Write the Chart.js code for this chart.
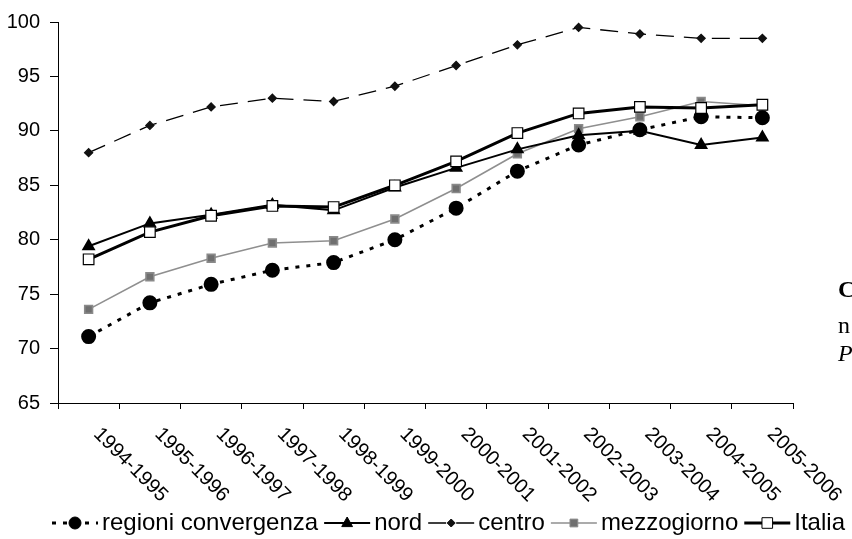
<!DOCTYPE html>
<html>
<head>
<meta charset="utf-8">
<script src="https://cdn.jsdelivr.net/npm/chart.js@4/dist/chart.umd.min.js"></script>
<style>
  html, body { margin: 0; padding: 0; background: #fff; overflow: hidden; }
  #wrap { position: relative; width: 852px; height: 539px; }
  .side { position: absolute; left: 838px; font-family: "Liberation Serif", serif; color: #000; font-size: 24px; }
</style>
</head>
<body>
<div id="wrap">
  <canvas id="chart" width="852" height="539"></canvas>
  <span class="side" style="top:276px;font-weight:bold">C</span>
  <span class="side" style="top:312px">n</span>
  <span class="side" style="top:340px;font-style:italic">P</span>
</div>
<script>
const categories = ["1994-1995", "1995-1996", "1996-1997", "1997-1998", "1998-1999", "1999-2000",
  "2000-2001", "2001-2002", "2002-2003", "2003-2004", "2004-2005", "2005-2006"];
const regioni = [71.1, 74.2, 75.9, 77.2, 77.9, 80.0, 82.9, 86.3, 88.7, 90.1, 91.3, 91.2];
const nord = [79.4, 81.5, 82.3, 83.2, 82.7, 84.8, 86.6, 88.3, 89.6, 90.0, 88.7, 89.4];
const centro = [88.0, 90.5, 92.2, 93.0, 92.7, 94.1, 96.0, 97.9, 99.5, 98.9, 98.5, 98.5];
const mezzogiorno = [73.6, 76.6, 78.3, 79.7, 79.9, 81.9, 84.7, 87.9, 90.2, 91.3, 92.7, 92.3];
const italia = [78.2, 80.7, 82.2, 83.1, 83.0, 85.0, 87.2, 89.8, 91.6, 92.2, 92.1, 92.4];
const yMin = 65, yMax = 100, yStep = 5;

const FONT = '"Liberation Sans", Arial, sans-serif';

// draw one marker for the legend
function marker(ctx, style, x, y, r, fill, stroke) {
  ctx.save();
  ctx.setLineDash([]);
  ctx.fillStyle = fill;
  ctx.strokeStyle = stroke;
  ctx.lineWidth = 1;
  ctx.beginPath();
  if (style === "circle") {
    ctx.arc(x, y, r, 0, Math.PI * 2);
  } else if (style === "triangle") {
    ctx.moveTo(x, y - r);
    ctx.lineTo(x + r * 0.9, y + r * 0.6);
    ctx.lineTo(x - r * 0.9, y + r * 0.6);
    ctx.closePath();
  } else if (style === "rectRot") {
    ctx.moveTo(x, y - r); ctx.lineTo(x + r, y); ctx.lineTo(x, y + r); ctx.lineTo(x - r, y);
    ctx.closePath();
  } else {
    const s = r * Math.SQRT1_2;
    ctx.rect(x - s, y - s, 2 * s, 2 * s);
  }
  ctx.fill();
  ctx.stroke();
  ctx.restore();
}

const extras = {
  id: "extras",
  afterDraw(chart) {
    const ctx = chart.ctx;
    const xs = chart.scales.x;
    // rotated category labels, reading down to the right
    ctx.save();
    ctx.fillStyle = "#000";
    ctx.font = "20px " + FONT;
    ctx.textAlign = "left";
    ctx.textBaseline = "middle";
    categories.forEach((c, i) => {
      const px = xs.getPixelForValue(i);
      ctx.save();
      ctx.translate(px + 8, 431);
      ctx.rotate(Math.PI / 4);
      ctx.fillText(c, 0, 0);
      ctx.restore();
    });
    ctx.restore();

    // legend along the bottom
    ctx.save();
    ctx.font = "24px " + FONT;
    ctx.textBaseline = "middle";
    let x = 52;
    const y = 523;
    chart.data.datasets.forEach(ds => {
      const w = 46;
      ctx.save();
      ctx.strokeStyle = ds.borderColor;
      ctx.lineWidth = ds.borderWidth;
      ctx.setLineDash(ds.borderDash || []);
      ctx.beginPath();
      ctx.moveTo(x, y);
      ctx.lineTo(x + w, y);
      ctx.stroke();
      ctx.restore();
      marker(ctx, ds.pointStyle, x + w / 2, y, ds.pointRadius, ds.pointBackgroundColor, ds.pointBorderColor);
      x += w + 4;
      ctx.fillStyle = "#000";
      ctx.fillText(ds.label, x, y);
      x += ctx.measureText(ds.label).width + 6;
    });
    ctx.restore();
  }
};

new Chart(document.getElementById("chart"), {
  type: "line",
  data: {
    labels: categories,
    datasets: [
      {
        label: "regioni convergenza", data: regioni, order: 2,
        borderColor: "#000", borderWidth: 3, borderDash: [4, 7],
        pointStyle: "circle", pointRadius: 6,
        pointBackgroundColor: "#000", pointBorderColor: "#000"
      },
      {
        label: "nord", data: nord, order: 1,
        borderColor: "#000", borderWidth: 2,
        pointStyle: "triangle", pointRadius: 6,
        pointBackgroundColor: "#000", pointBorderColor: "#000"
      },
      {
        label: "centro", data: centro, order: 4,
        borderColor: "#000", borderWidth: 1.3, borderDash: [18, 10],
        pointStyle: "rectRot", pointRadius: 4,
        pointBackgroundColor: "#111", pointBorderColor: "#111"
      },
      {
        label: "mezzogiorno", data: mezzogiorno, order: 3,
        borderColor: "#8f8f8f", borderWidth: 1.6,
        pointStyle: "rect", pointRadius: 5.5,
        pointBackgroundColor: "#6f6f6f", pointBorderColor: "#8a8a8a"
      },
      {
        label: "Italia", data: italia, order: 0,
        borderColor: "#000", borderWidth: 3,
        pointStyle: "rect", pointRadius: 7.5,
        pointBackgroundColor: "#fff", pointBorderColor: "#000", pointBorderWidth: 1.2
      }
    ]
  },
  options: {
    responsive: false,
    animation: false,
    layout: { padding: { top: 22, right: 59, left: 0, bottom: 0 } },
    plugins: { legend: { display: false }, tooltip: { enabled: false } },
    elements: { line: { tension: 0 } },
    scales: {
      x: {
        offset: true,
        grid: { display: true, drawOnChartArea: false, drawTicks: true, tickLength: 6, color: "#000", offset: true },
        border: { display: true, color: "#000", width: 1 },
        ticks: { display: false },
        afterFit(scale) { scale.height = 136; }
      },
      y: {
        min: yMin, max: yMax,
        grid: { display: true, drawOnChartArea: false, drawTicks: true, tickLength: 8, color: "#000" },
        border: { display: true, color: "#000", width: 1 },
        ticks: { stepSize: yStep, padding: 10, color: "#000", font: { family: FONT, size: 20 } },
        afterFit(scale) { scale.width = 58; }
      }
    }
  },
  plugins: [extras]
});
</script>
</body>
</html>
